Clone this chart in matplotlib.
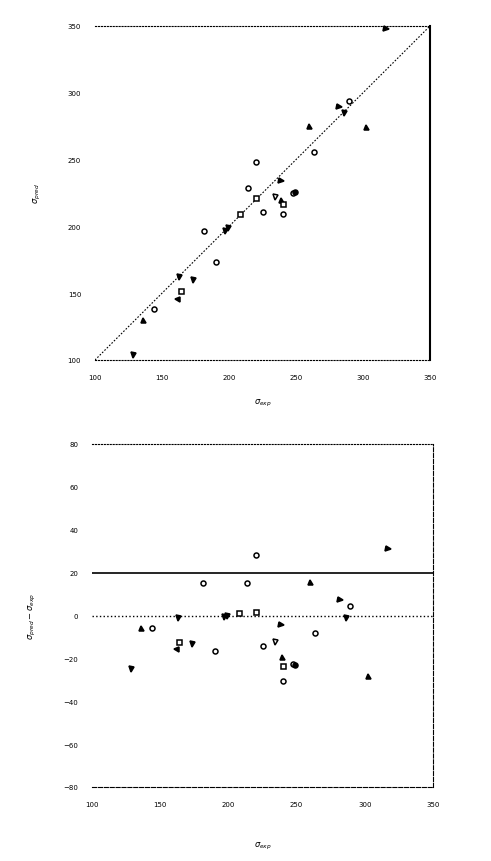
import matplotlib
matplotlib.use("Agg")
import matplotlib.pyplot as plt
import numpy as np

x_exp = [317, 220, 181.5, 214, 259.5, 282, 289.5, 220, 208, 199, 197,
         163, 286, 238.5, 136, 144, 263.5, 164, 161.5, 173.5, 190, 225,
         234.5, 239, 240, 247.5, 249, 240, 302.5, 128.5]
y_pred = [348, 248, 196.5, 229, 275, 289, 294, 221.5, 209, 199, 196.5,
          162, 285, 234, 130, 138, 255.5, 151.5, 146, 160, 173.5, 211,
          222, 219.5, 216.5, 225, 226, 209.5, 274.5, 103.5]

ticks = [100, 150, 200, 250, 300, 350]
res_ticks = [80, 60, 40, 20, 0, -20, -40, -60, -80]

# marker style per point
mk = ['>', 'o', 'o', 'o', '^', '>', 'o', 's', 's', 'v', 'v',
      'v', 'v', '>', '^', 'o', 'o', 's', '<', 'v', 'o', 'o',
      'v', '^', 's', 'o', 'o', 'o', '^', 'v']
filled = [1, 0, 0, 0, 1, 1, 0, 0, 0, 1, 1,
          1, 1, 1, 1, 0, 0, 0, 1, 1, 0, 0,
          0, 1, 0, 0, 1, 0, 1, 1]

x_exp = np.array(x_exp)
y_pred = np.array(y_pred)
resid = y_pred - x_exp

fig = plt.figure(figsize=(4.91, 8.62), dpi=100)
ax1 = fig.add_axes([95/491, 1-361/862, 335/491, 334/862])
ax2 = fig.add_axes([92/491, 1-788/862, 341/491, 343/862])

def pts(ax, xs, ys):
    for j in range(len(xs)):
        fc = 'k' if filled[j] else 'white'
        ax.plot(xs[j], ys[j], marker=mk[j], ms=3.6, mfc=fc, mec='k',
                mew=1.1, ls='none', clip_on=False, zorder=5)

# top: parity plot
ax1.plot([100, 350], [100, 350], color='k', lw=0.8, ls=(0, (1.5, 1.5)))
pts(ax1, x_exp, y_pred)
ax1.set_xlim(100, 350)
ax1.set_ylim(100, 350)
ax1.set_xticks(ticks)
ax1.set_yticks(ticks)
ax1.set_xticks([250, 300], minor=True)
ax1.spines['left'].set_visible(False)
ax1.spines['top'].set_linestyle(':')
ax1.spines['bottom'].set_linestyle(':')
ax1.spines['right'].set_linewidth(1.5)
ax1.tick_params(which='major', length=0, labelsize=5, pad=10)
ax1.tick_params(which='minor', direction='in', length=3, width=1, top=True)
ax1.set_xlabel(r'$\sigma_{exp}$', fontsize=6, labelpad=12)
ax1.set_ylabel(r'$\sigma_{pred}$', fontsize=6, labelpad=18)

# bottom: residuals
ax2.axhline(20, color='k', lw=1.2)
ax2.axhline(0, color='k', lw=1.0, ls=':')
pts(ax2, x_exp, resid)
ax2.set_xlim(100, 350)
ax2.set_ylim(-80, 80)
ax2.set_xticks(ticks)
ax2.set_yticks(res_ticks)
ax2.set_xticks([150, 200, 300], minor=True)
ax2.set_yticks([60, -40], minor=True)
ax2.spines['left'].set_visible(False)
ax2.spines['top'].set_linestyle(':')
ax2.spines['bottom'].set_linestyle('--')
ax2.spines['right'].set_linestyle('--')
ax2.tick_params(which='major', length=0, labelsize=5, pad=10)
ax2.tick_params(which='minor', direction='in', length=3, width=1,
                top=True, right=True)
ax2.set_xlabel(r'$\sigma_{exp}$', fontsize=6, labelpad=24)
ax2.set_ylabel(r'$\sigma_{pred}-\sigma_{exp}$', fontsize=6, labelpad=18)

fig.savefig('out.png', dpi=100)
